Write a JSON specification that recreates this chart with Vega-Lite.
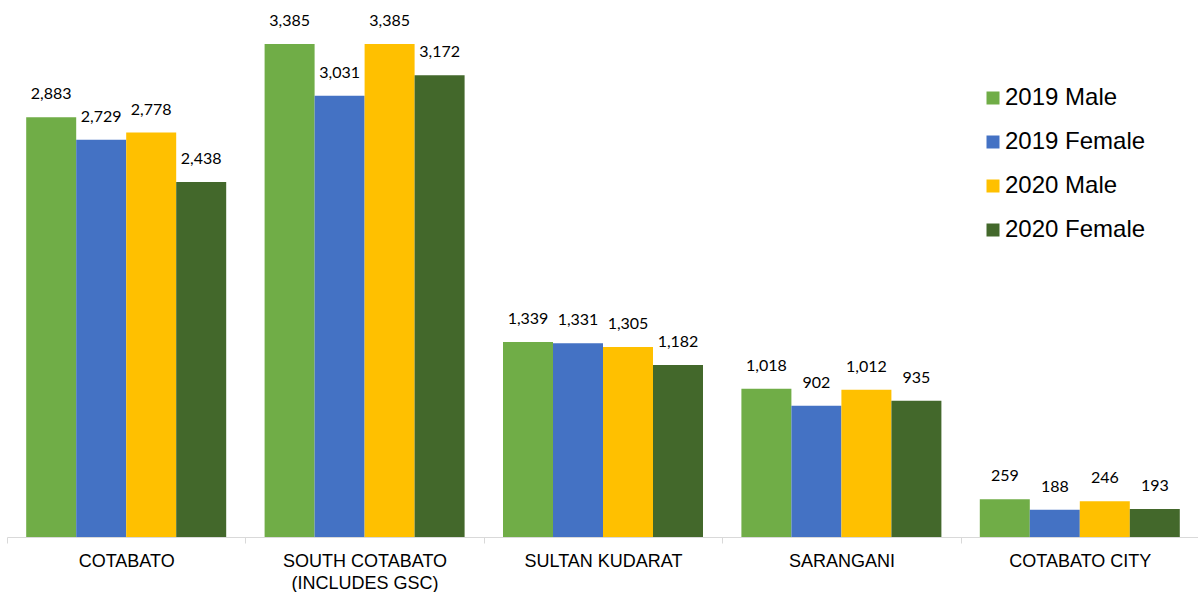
{
  "$schema": "https://vega.github.io/schema/vega-lite/v6.json",
  "width": 1192,
  "height": 537,
  "padding": {"left": 6, "top": 0, "right": 0, "bottom": 0},
  "autosize": {"type": "pad"},
  "background": "white",
  "config": {"view": {"stroke": null}},
  "data": {
    "values": [
      {"region": "COTABATO", "series": "2019 Male", "value": 2883},
      {"region": "COTABATO", "series": "2019 Female", "value": 2729},
      {"region": "COTABATO", "series": "2020 Male", "value": 2778},
      {"region": "COTABATO", "series": "2020 Female", "value": 2438},
      {"region": "SOUTH COTABATO (INCLUDES GSC)", "series": "2019 Male", "value": 3385},
      {"region": "SOUTH COTABATO (INCLUDES GSC)", "series": "2019 Female", "value": 3031},
      {"region": "SOUTH COTABATO (INCLUDES GSC)", "series": "2020 Male", "value": 3385},
      {"region": "SOUTH COTABATO (INCLUDES GSC)", "series": "2020 Female", "value": 3172},
      {"region": "SULTAN KUDARAT", "series": "2019 Male", "value": 1339},
      {"region": "SULTAN KUDARAT", "series": "2019 Female", "value": 1331},
      {"region": "SULTAN KUDARAT", "series": "2020 Male", "value": 1305},
      {"region": "SULTAN KUDARAT", "series": "2020 Female", "value": 1182},
      {"region": "SARANGANI", "series": "2019 Male", "value": 1018},
      {"region": "SARANGANI", "series": "2019 Female", "value": 902},
      {"region": "SARANGANI", "series": "2020 Male", "value": 1012},
      {"region": "SARANGANI", "series": "2020 Female", "value": 935},
      {"region": "COTABATO CITY", "series": "2019 Male", "value": 259},
      {"region": "COTABATO CITY", "series": "2019 Female", "value": 188},
      {"region": "COTABATO CITY", "series": "2020 Male", "value": 246},
      {"region": "COTABATO CITY", "series": "2020 Female", "value": 193}
    ]
  },
  "encoding": {
    "x": {
      "field": "region",
      "type": "nominal",
      "sort": null,
      "scale": {"paddingInner": 0, "paddingOuter": 0},
      "axis": {
        "title": null,
        "labelAngle": 0,
        "domainColor": "#d9d9d9",
        "tickColor": "#d9d9d9",
        "tickSize": 6,
        "tickBand": "extent",
        "labelFont": "Liberation Sans",
        "labelFontSize": 18,
        "labelColor": "#000000",
        "labelPadding": 9,
        "labelLineHeight": 22,
        "labelLimit": 300,
        "labelExpr": "datum.value == 'SOUTH COTABATO (INCLUDES GSC)' ? ['SOUTH COTABATO', '(INCLUDES GSC)'] : datum.value"
      }
    },
    "xOffset": {
      "field": "series",
      "type": "nominal",
      "sort": ["2019 Male", "2019 Female", "2020 Male", "2020 Female"],
      "scale": {"paddingInner": 0, "paddingOuter": 0.384}
    },
    "y": {
      "field": "value",
      "type": "quantitative",
      "scale": {"domain": [0, 3688], "nice": false},
      "axis": null
    }
  },
  "layer": [
    {
      "mark": {"type": "bar"},
      "encoding": {
        "color": {
          "field": "series",
          "type": "nominal",
          "sort": ["2019 Male", "2019 Female", "2020 Male", "2020 Female"],
          "scale": {
            "domain": ["2019 Male", "2019 Female", "2020 Male", "2020 Female"],
            "range": ["#70AD47", "#4472C4", "#FFC000", "#43682B"]
          },
          "legend": {
            "title": null,
            "orient": "none",
            "legendX": 974,
            "legendY": 86,
            "symbolType": "square",
            "symbolSize": 169,
            "symbolStrokeWidth": 0,
            "labelFont": "Liberation Sans",
            "labelFontSize": 24,
            "labelColor": "#000000",
            "labelOffset": 0,
            "rowPadding": 20,
            "labelLimit": 300
          }
        }
      }
    },
    {
      "mark": {
        "type": "text",
        "baseline": "middle",
        "dy": -23,
        "font": "Lato",
        "fontSize": 16,
        "color": "#000000"
      },
      "encoding": {
        "text": {"field": "value", "type": "quantitative", "format": ","}
      }
    }
  ]
}
